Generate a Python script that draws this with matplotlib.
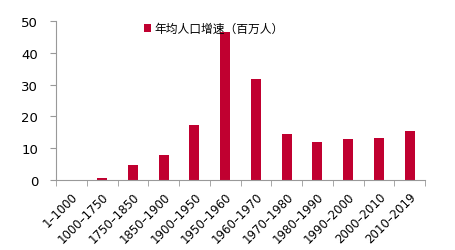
import numpy as np
import matplotlib.pyplot as plt
from matplotlib.ticker import FixedLocator

plt.rcParams['font.family'] = ['Noto Sans CJK SC', 'DejaVu Sans']

periods = ["1-1000", "1000-1750", "1750-1850", "1850-1900", "1900-1950", "1950-1960",
           "1960-1970", "1970-1980", "1980-1990", "1990-2000", "2000-2010", "2010-2019"]
growth = [0.02, 0.5, 4.7, 7.8, 17.3, 46.5, 31.7, 14.4, 11.9, 12.9, 13.2, 15.4]
label = "年均人口增速（百万人）"

red = "#C00030"
gray = "#999999"

fig = plt.figure(figsize=(4.56, 2.51), dpi=100)
ax = fig.add_axes([0.123, 0.279, 0.809, 0.633])

x = np.arange(len(periods))
ax.bar(x, growth, width=0.33, color=red, label=label)

ax.set_xlim(-0.5, len(periods) - 0.5)
ax.set_ylim(0, 50)
ax.set_yticks([0, 10, 20, 30, 40, 50])
ax.set_xticks(x)
ax.set_xticklabels([p.replace("-", "–") for p in periods], rotation=45, ha="right",
                   rotation_mode="anchor", fontsize=8.5, family="DejaVu Sans")
ax.xaxis.set_minor_locator(FixedLocator(np.arange(-0.5, len(periods), 1)))
ax.tick_params(axis="x", which="major", length=0, pad=7)
ax.tick_params(axis="x", which="minor", length=4, color=gray)
ax.tick_params(axis="y", length=4, color=gray, labelsize=9.5, pad=9)
for lab in ax.get_yticklabels():
    lab.set_family("DejaVu Sans")

for s in ["top", "right"]:
    ax.spines[s].set_visible(False)
for s in ["left", "bottom"]:
    ax.spines[s].set_color(gray)

ax.legend(loc="upper left", bbox_to_anchor=(0.21, 1.06), frameon=False, fontsize=8.5,
          handlelength=0.6, handleheight=0.6, handletextpad=0.3)

fig.savefig("out.png", dpi=100)
